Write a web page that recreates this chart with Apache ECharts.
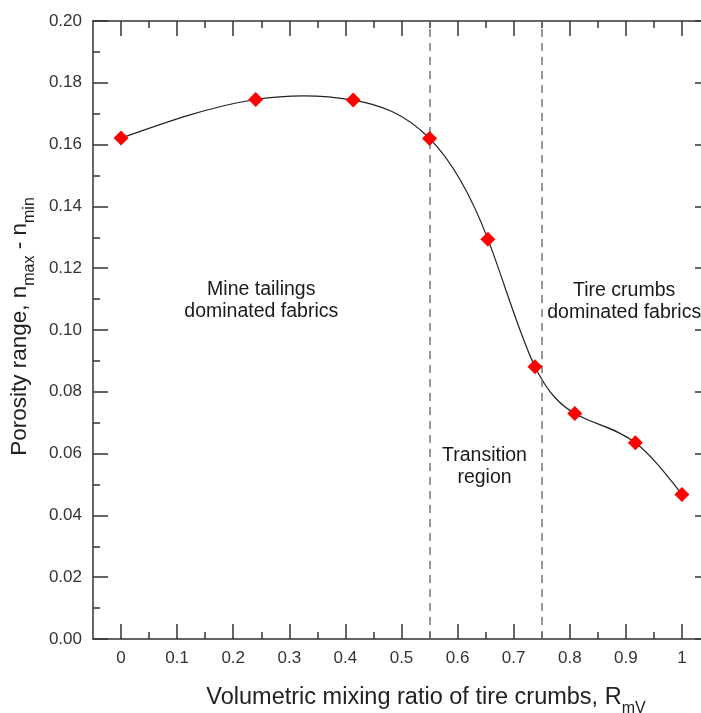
<!DOCTYPE html>
<html>
<head>
<meta charset="utf-8">
<script src="https://cdn.jsdelivr.net/npm/echarts@6/dist/echarts.min.js"></script>
<style>
html,body{margin:0;padding:0;background:#fff;overflow:hidden;}
#chart{width:701px;height:713px;}
</style>
</head>
<body>
<div id="chart"></div>
<script>
// Data
const mixRatio = [0, 0.24, 0.414, 0.55, 0.654, 0.738, 0.809, 0.917, 1];
const porosityRange = [0.1621, 0.1746, 0.1744, 0.162, 0.1294, 0.0881, 0.0730, 0.0635, 0.0468];
const boundaries = [0.55, 0.75];
const xMajorTicks = [0, 0.1, 0.2, 0.3, 0.4, 0.5, 0.6, 0.7, 0.8, 0.9, 1];
const xMinorTicks = [0.05, 0.15, 0.25, 0.35, 0.45, 0.55, 0.65, 0.75, 0.85, 0.95];
const regionLabels = ['Mine tailings\ndominated fabrics', 'Transition\nregion', 'Tire crumbs\ndominated fabrics'];
const regionLabelX = [0.25, 0.648, 0.897];
const regionLabelY = [0.1094, 0.0558, 0.1092];

const FONT = '"Liberation Sans", Arial, sans-serif';
const AX = '#333';
const lineStyle = { color: AX, width: 1.5 };
const tickStyle = { color: AX, width: 1.5 };

// Natural cubic spline through the data (computed in data space, drawn via api.coord)
function splineSegments(xs, ys) {
  const n = xs.length;
  const h = [];
  for (let i = 0; i < n - 1; i++) h.push(xs[i + 1] - xs[i]);
  const M = new Array(n).fill(0);
  if (n > 2) {
    const a = [], b = [], c = [], d = [];
    for (let i = 1; i < n - 1; i++) {
      a.push(h[i - 1]);
      b.push(2 * (h[i - 1] + h[i]));
      c.push(h[i]);
      d.push(6 * ((ys[i + 1] - ys[i]) / h[i] - (ys[i] - ys[i - 1]) / h[i - 1]));
    }
    const m = b.length;
    for (let i = 1; i < m; i++) {
      const w = a[i] / b[i - 1];
      b[i] -= w * c[i - 1];
      d[i] -= w * d[i - 1];
    }
    const sol = new Array(m);
    sol[m - 1] = d[m - 1] / b[m - 1];
    for (let i = m - 2; i >= 0; i--) sol[i] = (d[i] - c[i] * sol[i + 1]) / b[i];
    for (let i = 0; i < m; i++) M[i + 1] = sol[i];
  }
  const segs = [];
  for (let i = 0; i < n - 1; i++) {
    const hh = h[i];
    const s = (ys[i + 1] - ys[i]) / hh;
    const dl = s - hh * (2 * M[i] + M[i + 1]) / 6;
    const dr = s + hh * (M[i] + 2 * M[i + 1]) / 6;
    segs.push([
      [xs[i] + hh / 3, ys[i] + dl * hh / 3],
      [xs[i + 1] - hh / 3, ys[i + 1] - dr * hh / 3],
      [xs[i + 1], ys[i + 1]]
    ]);
  }
  return segs;
}

const xBase = { type: 'value', gridIndex: 0, min: -0.05, max: 1.05, splitLine: { show: false } };
const subRich = {
  m: { fontSize: 22.5, fontFamily: FONT, color: '#222', lineHeight: 23, verticalAlign: 'top' },
  s: { fontSize: 16, fontFamily: FONT, color: '#222', lineHeight: 30, verticalAlign: 'bottom' }
};

const chart = echarts.init(document.getElementById('chart'), null, { renderer: 'canvas' });
chart.setOption({
  animation: false,
  backgroundColor: '#fff',
  grid: { left: 93, top: 21, width: 617, height: 618, containLabel: false, outerBoundsMode: 'none' },
  xAxis: [
    Object.assign({}, xBase, {
      position: 'bottom',
      axisLine: { show: true, onZero: false, lineStyle: lineStyle },
      axisTick: { show: true, inside: true, length: 15, customValues: xMajorTicks, lineStyle: tickStyle },
      axisLabel: { show: true, customValues: xMajorTicks, fontSize: 17, color: AX, fontFamily: FONT, margin: 11 },
      name: '{m|Volumetric mixing ratio of tire crumbs, R}{s|mV}',
      nameLocation: 'middle',
      nameGap: 47,
      nameTextStyle: {
        padding: [0, 0, 0, 49],
        rich: {
          m: { fontSize: 23.5, fontFamily: FONT, color: '#222', lineHeight: 24, verticalAlign: 'top' },
          s: { fontSize: 16, fontFamily: FONT, color: '#222', lineHeight: 31, verticalAlign: 'bottom' }
        }
      }
    }),
    Object.assign({}, xBase, {
      position: 'bottom',
      axisLine: { show: false, onZero: false },
      axisTick: { show: true, inside: true, length: 7, customValues: xMinorTicks, lineStyle: tickStyle },
      axisLabel: { show: false }
    }),
    Object.assign({}, xBase, {
      position: 'top',
      axisLine: { show: true, onZero: false, lineStyle: lineStyle },
      axisTick: { show: true, inside: true, length: 15, customValues: xMajorTicks, lineStyle: tickStyle },
      axisLabel: { show: false }
    }),
    Object.assign({}, xBase, {
      position: 'top',
      axisLine: { show: false, onZero: false },
      axisTick: { show: true, inside: true, length: 7, customValues: xMinorTicks, lineStyle: tickStyle },
      axisLabel: { show: false }
    })
  ],
  yAxis: [
    {
      type: 'value', position: 'left', min: 0, max: 0.2, interval: 0.02,
      axisLine: { show: true, onZero: false, lineStyle: lineStyle },
      axisTick: { show: true, inside: true, length: 15, lineStyle: tickStyle },
      minorTick: { show: true, splitNumber: 2, length: 7, lineStyle: tickStyle },
      splitLine: { show: false },
      axisLabel: { fontSize: 17, color: AX, fontFamily: FONT, margin: 11, formatter: v => v.toFixed(2) },
      name: '{m|Porosity range, n}{s|max}{m| - n}{s|min}',
      nameLocation: 'middle',
      nameGap: 54,
      nameRotate: 90,
      nameTextStyle: { padding: [0, 0, 0, 7], rich: subRich }
    },
    {
      type: 'value', position: 'right', min: 0, max: 0.2, interval: 0.02,
      axisLine: { show: true, onZero: false, lineStyle: lineStyle },
      axisTick: { show: true, inside: true, length: 15, lineStyle: tickStyle },
      minorTick: { show: true, splitNumber: 2, length: 7, lineStyle: tickStyle },
      splitLine: { show: false },
      axisLabel: { show: false }
    }
  ],
  series: [
    {
      type: 'custom',
      xAxisIndex: 0, yAxisIndex: 0,
      silent: true,
      clip: true,
      z: 4,
      data: mixRatio.map((x, i) => [x, porosityRange[i]]),
      renderItem: function (params, api) {
        if (params.dataIndex !== 0) return null;
        const segs = splineSegments(mixRatio, porosityRange);
        const p0 = api.coord([mixRatio[0], porosityRange[0]]);
        let d = 'M' + p0[0] + ' ' + p0[1];
        segs.forEach(function (s) {
          const c1 = api.coord(s[0]), c2 = api.coord(s[1]), e = api.coord(s[2]);
          d += ' C' + c1[0] + ' ' + c1[1] + ' ' + c2[0] + ' ' + c2[1] + ' ' + e[0] + ' ' + e[1];
        });
        return {
          type: 'path',
          shape: { pathData: d },
          style: { fill: null, stroke: '#222', lineWidth: 1.2 }
        };
      },
      markLine: {
        silent: true,
        symbol: ['none', 'none'],
        label: { show: false },
        lineStyle: { type: [8, 6], color: '#777', width: 1.5 },
        data: boundaries.map(b => ({ xAxis: b }))
      }
    },
    {
      type: 'scatter',
      xAxisIndex: 0, yAxisIndex: 0,
      data: mixRatio.map((x, i) => [x, porosityRange[i]]),
      symbol: 'diamond',
      symbolSize: 15,
      itemStyle: { color: '#ff0000', opacity: 1 },
      z: 6
    },
    {
      type: 'scatter',
      xAxisIndex: 0, yAxisIndex: 0,
      symbolSize: 0,
      silent: true,
      itemStyle: { opacity: 1 },
      data: regionLabels.map((t, i) => ({ name: t, value: [regionLabelX[i], regionLabelY[i]] })),
      label: {
        show: true, position: 'inside', formatter: p => p.name,
        fontSize: 19.5, lineHeight: 22, color: '#1a1a1a', fontFamily: FONT, align: 'center'
      }
    }
  ]
});
</script>
</body>
</html>
